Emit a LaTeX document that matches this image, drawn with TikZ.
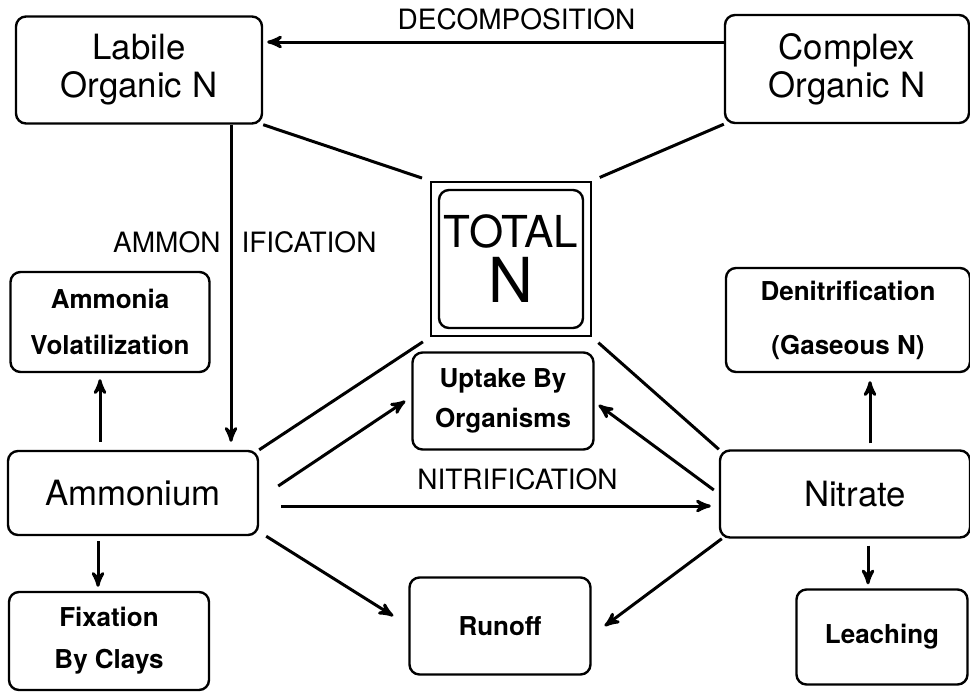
\documentclass[tikz,border=0pt]{standalone}
\usepackage{fontspec}
\setmainfont{TeX Gyre Heros}
\usetikzlibrary{arrows,positioning,fit}

\begin{document}
\begin{tikzpicture}[->,>=stealth',x=0.5pt,y=-0.5pt,
  box/.style={draw,rounded corners=5pt,align=center,inner sep=0pt,line width=1.2pt},
  pool/.style={box,font=\fontsize{17.4}{19}\selectfont},
  loss/.style={box,font=\bfseries\fontsize{13}{23}\selectfont},
  flow/.style={line width=1.5pt},
  caps/.style={font=\fontsize{14}{16}\selectfont,inner sep=4.5pt}]
\useasboundingbox (0,0) rectangle (970,692);
% pools
\node[pool,minimum width=123pt,minimum height=53.5pt] (Labile) at (139,70) {Labile\\Organic N};
\node[pool,minimum width=122pt,minimum height=54pt] (Complex) at (847,69) {Complex\\Organic N};
\node[pool,minimum width=125pt,minimum height=42pt] (Ammonium) at (133,493) {Ammonium};
\node[pool,minimum width=125pt,minimum height=43.5pt] (Nitrate) at (845,494) {\hspace*{10pt}Nitrate};
\node[box,minimum width=72pt,minimum height=69pt,font=\fontsize{22}{27.5}\selectfont] (Total) at (511,259)
  {TOTAL\\{\fontsize{31}{27.5}\selectfont N}};
\node[draw,line width=1.2pt,fit=(Total),inner sep=3.5pt] (Frame) {};
% losses
\node[loss,minimum width=99.5pt,minimum height=50pt] (Volatil) at (110,322) {Ammonia\\Volatilization};
\node[loss,minimum width=122pt,minimum height=52pt,font=\bfseries\fontsize{13}{27}\selectfont] (Denitr) at (848,320) {Denitrification\\(Gaseous N)};
\node[loss,minimum width=90.5pt,minimum height=48.5pt,font=\bfseries\fontsize{13}{20}\selectfont] (Uptake) at (503,401) {Uptake By\\Organisms};
\node[loss,minimum width=100pt,minimum height=49pt,font=\bfseries\fontsize{13}{21}\selectfont] (Fixation) at (109,641) {Fixation\\By Clays};
\node[loss,minimum width=90.5pt,minimum height=48.5pt] (Runoff) at (500,626) {Runoff};
\node[loss,minimum width=85.5pt,minimum height=47.5pt] (Leaching) at (882,637) {Leaching};

\begin{scope}[flow]
% transformations
\draw[shorten >=2pt] ([yshift=13.5pt]Complex.west) -- ([yshift=13.5pt]Complex.west -| Labile.east)
  node[pos=0.45,above=1pt,caps]{DECOMPOSITION};
\draw[shorten >=4pt] ([xshift=46pt]Labile.south) -- ([xshift=46pt]Labile.south |- Ammonium.north)
  node[pos=0.363,caps,anchor=east]{AMMON} node[pos=0.363,caps,anchor=west]{IFICATION};
\draw[shorten >=4pt] ([xshift=11pt,yshift=-6.5pt]Ammonium.east) -- ([yshift=-6.5pt]Ammonium.east -| Nitrate.west)
  node[pos=0.54,above=3pt,caps]{NITRIFICATION};

% links to the total
\begin{scope}[-,shorten >=4pt]
\draw (Labile.south east) -- (Frame.north west);
\draw (Complex.south west) -- (Frame.north east);
\draw (Ammonium.north east) -- (Frame.south west);
\draw (Nitrate.north west) -- (Frame.south east);
\end{scope}

% losses from ammonium and nitrate
\draw ([xshift=9.5pt,yshift=3.5pt]Ammonium.east) -- ([xshift=-3pt]Uptake.west);
\draw ([xshift=-2.5pt,yshift=2pt]Nitrate.west) -- ([xshift=2pt,yshift=-2pt]Uptake.east);
\draw ([xshift=3.5pt]Ammonium.south east) -- ([xshift=-7.5pt,yshift=5pt]Runoff.west);
\draw ([xshift=1.5pt]Nitrate.south west) -- ([xshift=6.5pt]Runoff.east);
\draw ([xshift=-16.5pt,yshift=4pt]Ammonium.north) -- ([xshift=-16.5pt,yshift=-3pt]Ammonium.north |- Volatil.south);
\draw ([xshift=-17.5pt,yshift=-2.5pt]Ammonium.south) -- ([xshift=-17.5pt,yshift=2pt]Ammonium.south |- Fixation.north);
\draw ([xshift=12.5pt,yshift=3pt]Nitrate.north) -- ([xshift=12.5pt,yshift=-4pt]Nitrate.north |- Denitr.south);
\draw ([xshift=11.5pt,yshift=-3.5pt]Nitrate.south) -- ([xshift=11.5pt,yshift=2pt]Nitrate.south |- Leaching.north);
\end{scope}
\end{tikzpicture}
\end{document}
